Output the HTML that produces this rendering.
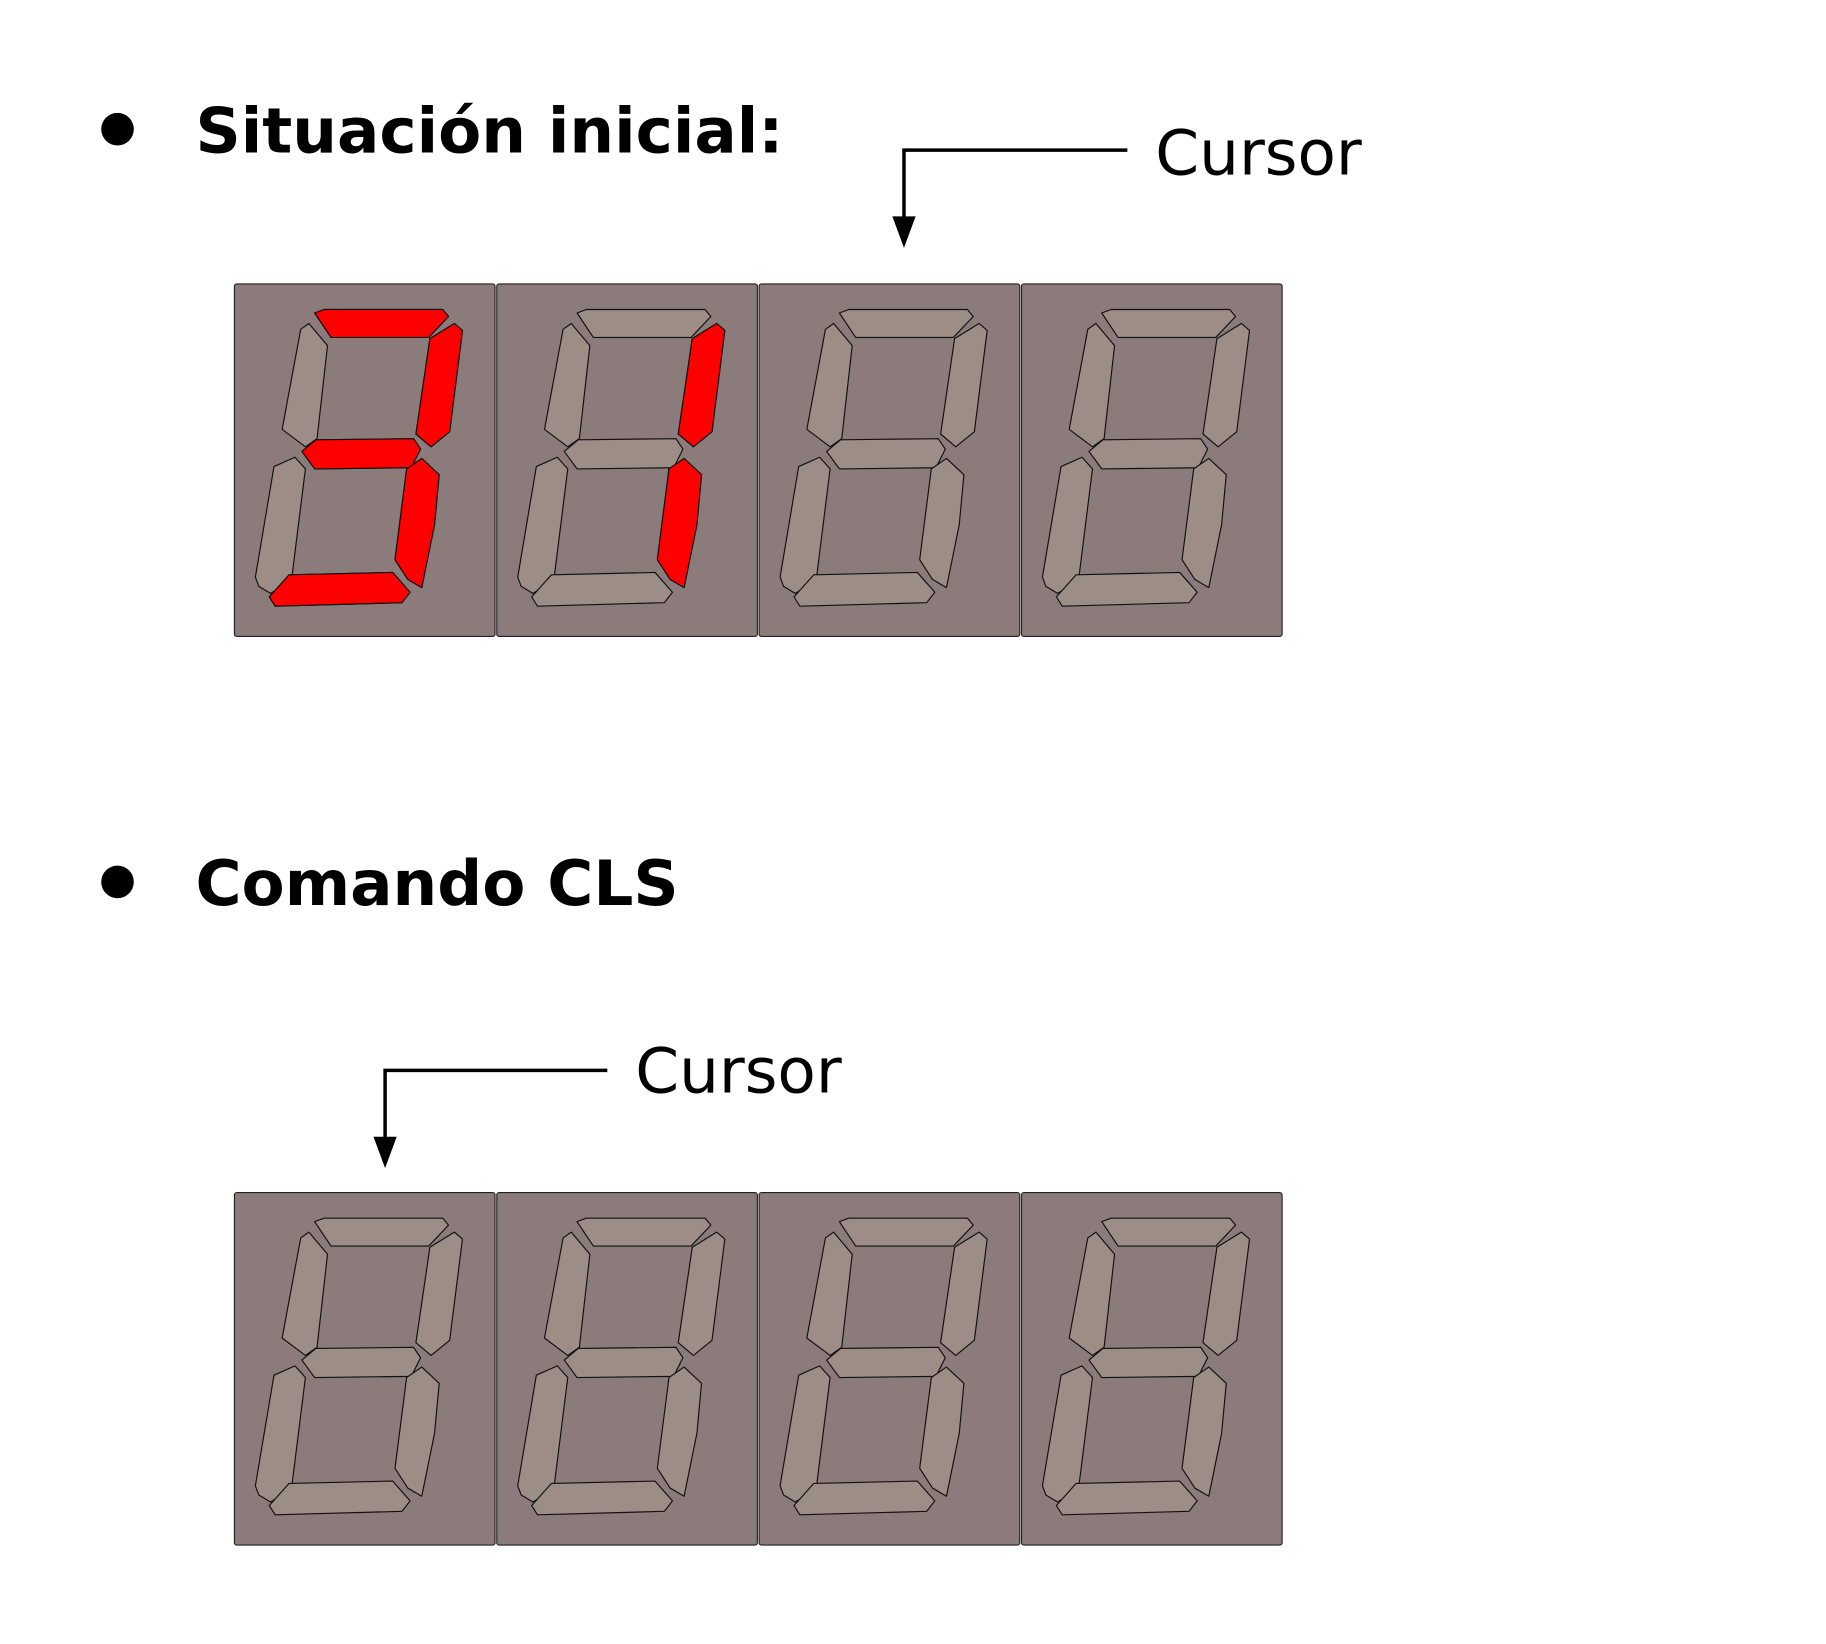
<!DOCTYPE html>
<html><head><meta charset="utf-8"><style>html,body{margin:0;padding:0;background:#fff}svg{display:block}</style></head>
<body>
<svg xmlns="http://www.w3.org/2000/svg" width="1826" height="1644" viewBox="0 0 1569.5 1413">
<defs>
<polygon id="A" points="69,25 77,22 179,22 184,28 167,46 83,46"/>
<polygon id="B" points="169,140 156,129 168,47 189,34 196,40 185,127"/>
<polygon id="F" points="41,125 57,39 64,34 80,53 71,133 61,140"/>
<polygon id="G" points="58,144 70,134 154,133 160,142 152,158 69,159"/>
<polygon id="E" points="18,252 34,157 52,149 61,159 49,255 31,266 21,260"/>
<polygon id="C" points="138,237 148,159 161,150 176,164 172,207 161,261 149,254"/>
<polygon id="D" points="30,269 47,250 136,248 151,265 144,274 35,277"/>
<g id="digit">
<rect x="0" y="0" width="224" height="303" rx="2" fill="#8b7b7a" stroke="#222" stroke-width="1"/>
<g fill="#9c8e87" stroke="#111" stroke-width="1" stroke-linejoin="round">
<use href="#A"/><use href="#B"/><use href="#F"/><use href="#G"/><use href="#E"/><use href="#C"/><use href="#D"/>
</g>
</g>
</defs>
<g font-family="DejaVu Sans, Liberation Sans, sans-serif">
<circle cx="101" cy="111" r="14" fill="#000"/>
<text x="168" y="131" font-size="54" font-weight="bold">Situación inicial:</text>
<circle cx="101" cy="758" r="14" fill="#000"/>
<text x="168" y="778" font-size="54" font-weight="bold">Comando CLS</text>
<text x="993" y="150" font-size="54">Cursor</text>
<text x="546" y="939" font-size="54">Cursor</text>
</g>
<polyline points="969,129 777,129 777,195" fill="none" stroke="#000" stroke-width="3"/>
<polygon points="767,186 787,186 777,213" fill="#000"/>
<polyline points="522,920 331,920 331,986" fill="none" stroke="#000" stroke-width="3"/>
<polygon points="321,977 341,977 331,1004" fill="#000"/>

<g transform="translate(201.5,244)">
<use href="#digit"/>
<g fill="#ff0000" stroke="#111" stroke-width="1" stroke-linejoin="round">
<use href="#A"/><use href="#B"/><use href="#G"/><use href="#C"/><use href="#D"/>
</g>
</g>
<g transform="translate(427,244)">
<use href="#digit"/>
<g fill="#ff0000" stroke="#111" stroke-width="1" stroke-linejoin="round">
<use href="#B"/><use href="#C"/>
</g>
</g>
<use href="#digit" transform="translate(652.5,244)"/>
<use href="#digit" transform="translate(878,244)"/>
<use href="#digit" transform="translate(201.5,1025)"/>
<use href="#digit" transform="translate(427,1025)"/>
<use href="#digit" transform="translate(652.5,1025)"/>
<use href="#digit" transform="translate(878,1025)"/>
</svg>
</body></html>
